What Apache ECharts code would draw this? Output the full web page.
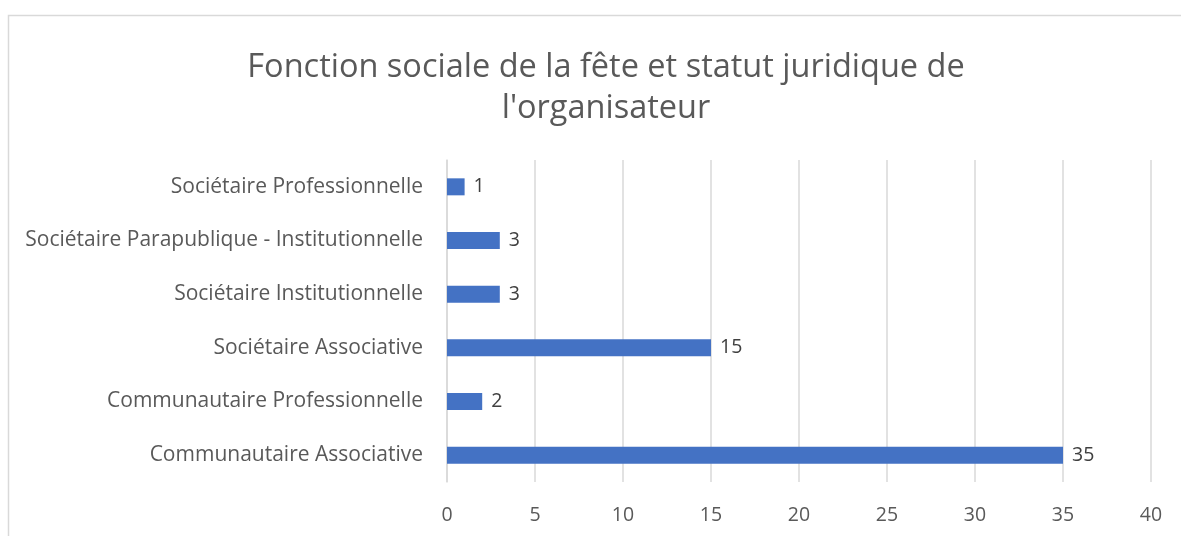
<!DOCTYPE html>
<html>
<head>
<meta charset="utf-8">
<script src="https://cdn.jsdelivr.net/npm/echarts@6/dist/echarts.min.js"></script>
<style>
  html, body { margin: 0; padding: 0; background: #fff; }
  #chart { width: 1181px; height: 536px; }
</style>
</head>
<body>
<div id="chart"></div>
<script>
// catégories, de bas en haut
var categories = [
  'Communautaire Associative',
  'Communautaire Professionnelle',
  'Sociétaire Associative',
  'Sociétaire Institutionnelle',
  'Sociétaire Parapublique - Institutionnelle',
  'Sociétaire Professionnelle'
]
var values = [35, 2, 15, 3, 3, 1]
var xTicks = [0, 5, 10, 15, 20, 25, 30, 35, 40]

var font = '"Open Sans", "Noto Sans", sans-serif'
var chart = echarts.init(document.getElementById('chart'))

chart.setOption({
  animation: false,
  textStyle: { fontFamily: font },
  graphic: [{
    type: 'rect',
    shape: { x: 8.5, y: 15.5, width: 1300, height: 700 },
    style: { fill: 'none', stroke: '#d9d9d9', lineWidth: 1.5 },
    silent: true
  }],
  title: {
    text: "Fonction sociale de la fête et statut juridique de\nl'organisateur",
    left: 601,
    top: 42,
    textAlign: 'center',
    textStyle: {
      fontFamily: font,
      fontSize: 32.5,
      fontWeight: 'normal',
      color: '#595959',
      lineHeight: 41
    }
  },
  grid: {
    left: 447,
    right: 30,
    top: 160,
    bottom: 54,
    containLabel: false
  },
  xAxis: {
    type: 'value',
    min: 0,
    max: 40,
    interval: 5,
    axisLine: { show: false },
    axisTick: { show: false },
    splitLine: { lineStyle: { color: '#d9d9d9', width: 1.5 } },
    axisLabel: {
      color: '#595959',
      fontSize: 19.5,
      margin: 23,
      formatter: function (v) { return xTicks.indexOf(v) >= 0 ? String(v) : '' }
    }
  },
  yAxis: {
    type: 'category',
    data: categories,
    axisLine: { show: true, lineStyle: { color: '#d9d9d9', width: 1.5 } },
    axisTick: { show: false },
    axisLabel: { color: '#595959', fontSize: 21, margin: 24 }
  },
  series: [{
    type: 'bar',
    data: values,
    barWidth: 17,
    itemStyle: { color: '#4472c4' },
    label: {
      show: true,
      position: 'right',
      distance: 9,
      color: '#404040',
      fontSize: 19.5
    }
  }]
})
</script>
</body>
</html>
